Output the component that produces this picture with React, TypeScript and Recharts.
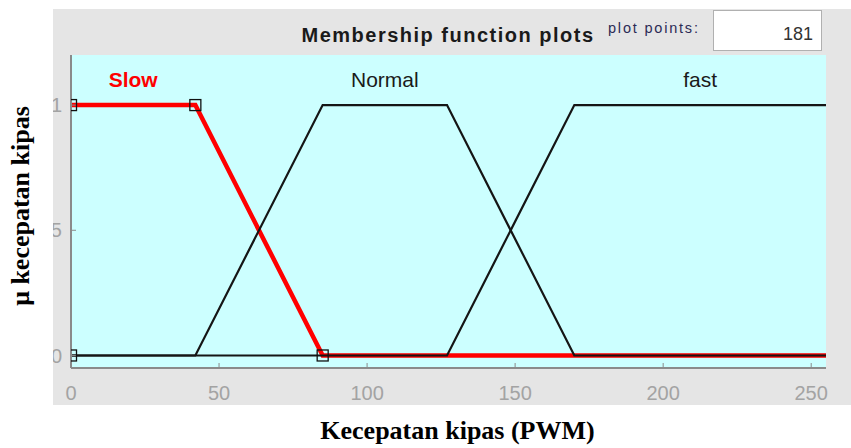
import { LineChart, Line, XAxis, YAxis, CartesianGrid, ReferenceDot } from 'recharts'

// membership functions of "Kecepatan kipas" (PWM, 0..255)
const slowPoints = [
  { x: 0, y: 1 },
  { x: 42, y: 1 },
  { x: 85, y: 0 },
  { x: 255, y: 0 },
]
const normalPoints = [
  { x: 0, y: 0 },
  { x: 42, y: 0 },
  { x: 85, y: 1 },
  { x: 127, y: 1 },
  { x: 170, y: 0 },
  { x: 255, y: 0 },
]
const fastPoints = [
  { x: 0, y: 0 },
  { x: 127, y: 0 },
  { x: 170, y: 1 },
  { x: 255, y: 1 },
]
// selected MF parameter handles
const slowHandles = [
  { x: 0, y: 0 },
  { x: 0, y: 1 },
  { x: 42, y: 1 },
  { x: 85, y: 0 },
]

const mfNames = ['Slow', 'Normal', 'fast']
const mfLabelX = [21, 106, 212.5]
const mfLabelY = 1.1
const xTicks = [0, 50, 100, 150, 200, 250]
const yTicks = [0, 0.5, 1]

const SANS = '"Liberation Sans", Arial, Helvetica, sans-serif'
const SERIF = '"Liberation Serif", "Times New Roman", serif'
const AXIS = '#8a8a8a'
const TICK_TEXT = '#a3a3a3'

const renderSquare = (props: any) => {
  const { cx, cy, index } = props
  if (cx == null || cy == null) return <g key={`h-${index}`} />
  return (
    <rect
      key={`h-${index}`}
      x={cx - 5.5}
      y={cy - 5.5}
      width={11}
      height={11}
      fill="none"
      stroke="#111"
      strokeWidth={1.3}
    />
  )
}

export default function App() {
  return (
    <div
      style={{
        position: 'absolute',
        left: 0,
        top: 0,
        width: 851,
        height: 448,
        background: '#fff',
        fontFamily: SANS,
      }}
    >
      <div
        style={{
          position: 'absolute',
          left: 53,
          top: 9,
          width: 798,
          height: 396,
          background: '#e5e5e5',
          overflow: 'hidden',
        }}
      >
        <div style={{ position: 'absolute', left: -53, top: -9 }}>
          <LineChart width={851} height={448} margin={{ top: 55, right: 25, bottom: 40, left: 51 }}>
            <CartesianGrid fill="#ccffff" horizontal={false} vertical={false} stroke="none" />
            <XAxis
              type="number"
              dataKey="x"
              domain={[0, 255]}
              ticks={xTicks}
              allowDataOverflow
              height={40}
              tickSize={-5}
              tickMargin={23}
              axisLine={{ stroke: AXIS, strokeWidth: 2 }}
              tickLine={{ stroke: AXIS }}
              tick={{ fill: TICK_TEXT, fontSize: 20, fontFamily: SANS }}
            />
            <XAxis
              xAxisId="top"
              orientation="top"
              type="number"
              dataKey="x"
              domain={[0, 255]}
              ticks={xTicks}
              allowDataOverflow
              height={0}
              tickSize={-5}
              axisLine={{ stroke: AXIS, strokeWidth: 2 }}
              tickLine={{ stroke: AXIS }}
              tick={false}
            />
            <YAxis
              type="number"
              domain={[-0.05, 1.2]}
              ticks={yTicks}
              allowDataOverflow
              width={20}
              tickSize={-5}
              tickMargin={14}
              tickFormatter={(v) => String(v)}
              axisLine={{ stroke: AXIS, strokeWidth: 2 }}
              tickLine={{ stroke: AXIS }}
              tick={{ fill: TICK_TEXT, fontSize: 20, fontFamily: SANS }}
            />
            <YAxis
              yAxisId="right"
              orientation="right"
              type="number"
              domain={[-0.05, 1.2]}
              ticks={yTicks}
              allowDataOverflow
              width={0}
              tickSize={-5}
              axisLine={{ stroke: AXIS, strokeWidth: 2 }}
              tickLine={{ stroke: AXIS }}
              tick={false}
            />
            <Line
              data={slowPoints}
              dataKey="y"
              type="linear"
              stroke="#ff0000"
              strokeWidth={4.5}
              dot={false}
              activeDot={false}
              isAnimationActive={false}
            />
            <Line
              data={normalPoints}
              dataKey="y"
              type="linear"
              stroke="#151515"
              strokeWidth={2.2}
              dot={false}
              activeDot={false}
              isAnimationActive={false}
            />
            <Line
              data={fastPoints}
              dataKey="y"
              type="linear"
              stroke="#151515"
              strokeWidth={2.2}
              dot={false}
              activeDot={false}
              isAnimationActive={false}
            />
            <Line
              data={slowHandles}
              dataKey="y"
              type="linear"
              stroke="none"
              dot={renderSquare}
              activeDot={false}
              isAnimationActive={false}
            />
            {mfNames.map((name, i) => (
              <ReferenceDot
                key={name}
                x={mfLabelX[i]}
                y={mfLabelY}
                r={0}
                fill="none"
                stroke="none"
                label={{
                  value: name,
                  position: 'center',
                  fill: i === 0 ? '#ff0000' : '#1a1a1a',
                  fontSize: 21,
                  fontWeight: i === 0 ? 'bold' : 'normal',
                  fontFamily: SANS,
                }}
              />
            ))}
          </LineChart>
        </div>
      </div>
      <svg
        width={851}
        height={448}
        style={{ position: 'absolute', left: 0, top: 0, pointerEvents: 'none' }}
      >
        <text
          x={448}
          y={42}
          textAnchor="middle"
          fontFamily={SANS}
          fontWeight="bold"
          fontSize={20}
          letterSpacing={1.5}
          fill="#1a1a1a"
        >
          Membership function plots
        </text>
        <text x={608} y={33} fontFamily={SANS} fontSize={14.5} letterSpacing={1.8} fill="#2b2b55">
          plot points:
        </text>
        <rect x={713.5} y={10.5} width={108} height={40} fill="#fff" stroke="#b0b0b0" />
        <text x={813} y={40} textAnchor="end" fontFamily={SANS} fontSize={18} fill="#333">
          181
        </text>
        <text
          x={457.5}
          y={439}
          textAnchor="middle"
          fontFamily={SERIF}
          fontWeight="bold"
          fontSize={26}
          fill="#000"
        >
          Kecepatan kipas (PWM)
        </text>
        <text
          transform="translate(29, 206) rotate(-90)"
          textAnchor="middle"
          fontFamily={SERIF}
          fontWeight="bold"
          fontSize={26}
          fill="#000"
        >
          μ kecepatan kipas
        </text>
      </svg>
    </div>
  )
}
